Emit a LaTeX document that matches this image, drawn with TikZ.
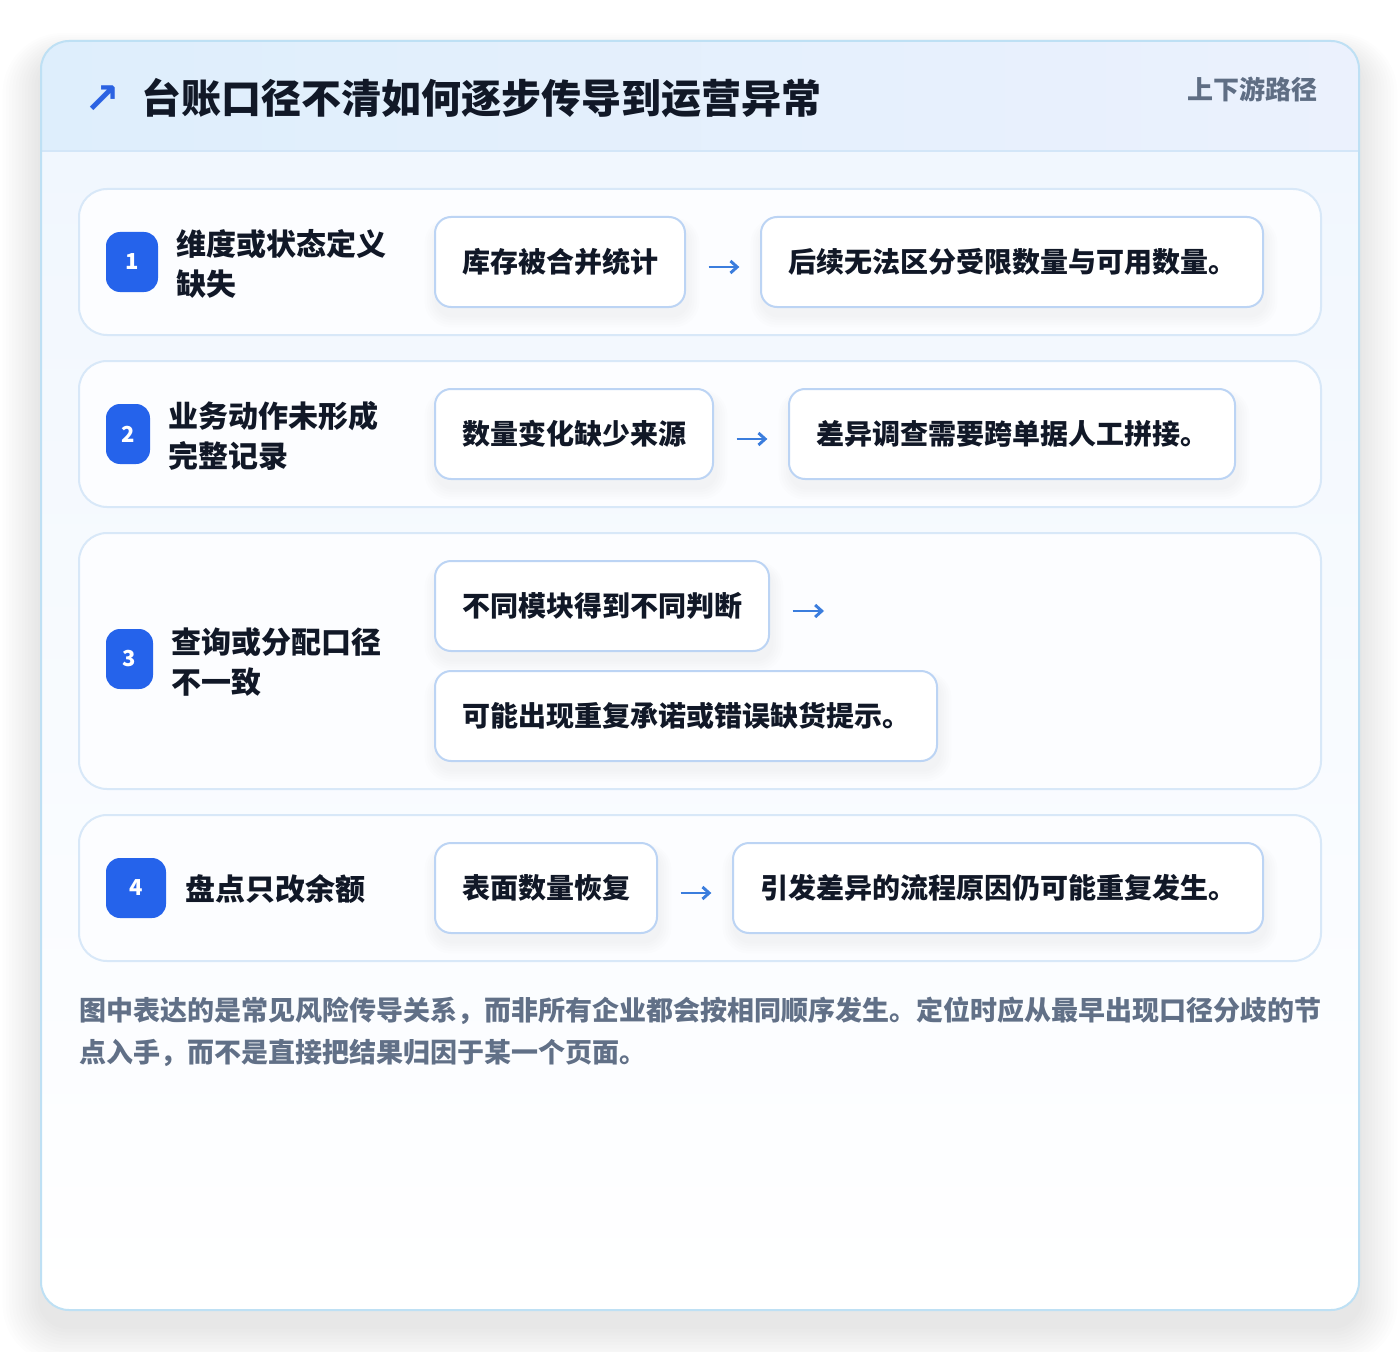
\documentclass[tikz,border=0pt]{standalone}
\usepackage{fontspec}
\setmainfont{Noto Sans CJK SC}
\newfontfamily\symfont{DejaVu Sans}
\usetikzlibrary{arrows.meta}
\definecolor{titlec}{HTML}{111827}
\definecolor{subc}{HTML}{5F6E84}
\definecolor{badgec}{HTML}{2563EB}
\definecolor{arrowc}{HTML}{3B7DDD}
\definecolor{iconc}{HTML}{2B62E2}
\definecolor{boxborder}{HTML}{BCD4F4}
\definecolor{rowborder}{HTML}{D8E8F8}
\definecolor{cardborder}{HTML}{BEE0F4}
\definecolor{hdrL}{HTML}{DEEEFC}
\definecolor{hdrR}{HTML}{EBF1FD}
\definecolor{hdrline}{HTML}{D3E6F8}
\definecolor{cardtop}{HTML}{F1F7FE}
\definecolor{rowfill}{HTML}{FCFDFF}
\definecolor{footc}{HTML}{617087}
\tikzset{
  rowbox/.style={draw=rowborder, line width=1.5pt, fill=rowfill, rounded corners=21pt, inner sep=0pt},
  badge/.style={fill=badgec, rounded corners=10.5pt, inner sep=0pt, minimum height=45pt, text=white, font=\bfseries\fontsize{16.5pt}{18pt}\selectfont},
  lbl/.style={anchor=west, inner sep=0pt, align=left, text=titlec, font=\bfseries\fontsize{22.5pt}{30pt}\selectfont},
  stepbox/.style={draw=boxborder, line width=1.5pt, fill=white, rounded corners=12pt, inner sep=0pt, minimum height=67.5pt, text=titlec, font=\bfseries\fontsize{21pt}{26pt}\selectfont},
  flow/.style={draw=arrowc, line width=2.2pt, -{Straight Barb[length=5pt,width=9pt,line width=2.2pt]}},
}
\begin{document}
\begin{tikzpicture}[x=0.75pt,y=-0.75pt]
\useasboundingbox (0,0) rectangle (1400,1352);
\fill[white] (0,0) rectangle (1400,1352);
% card shadow
\foreach \i in {1,...,12}{
  \fill[black, opacity=0.008, rounded corners=21pt+\i*2pt] (41-\i*3.2,41-\i*2+16) rectangle (1359+\i*3.2,1310+\i*3.2+16);
}
% card
\begin{scope}
  \clip[rounded corners=21pt] (41,41) rectangle (1359,1310);
  \shade[top color=cardtop, bottom color=white] (41,151) rectangle (1359,1310);
  \shade[left color=hdrL, right color=hdrR] (41,41) rectangle (1359,151);
  \draw[hdrline, line width=1.2pt] (41,151) -- (1359,151);
\end{scope}
\draw[cardborder, line width=1.5pt, rounded corners=21pt] (41,41) rectangle (1359,1310);
% header
\node[text=iconc, inner sep=0pt, font=\symfont\bfseries\fontsize{32pt}{32pt}\selectfont] (icon) at (102,100) {↗};
\node[anchor=west, inner sep=0pt, text=titlec, font=\bfseries\fontsize{30pt}{34pt}\selectfont] (title) at (141,98) {台账口径不清如何逐步传导到运营异常};
\node[anchor=east, inner sep=0pt, text=subc, font=\bfseries\fontsize{19.5pt}{22pt}\selectfont] (sub) at (1318,89) {上下游路径};
% rows
\node[rowbox, minimum width=931.5pt, minimum height=109.5pt] (row1) at (700,262) {};
\node[rowbox, minimum width=931.5pt, minimum height=109.5pt] (row2) at (700,434) {};
\node[rowbox, minimum width=931.5pt, minimum height=192pt] (row3) at (700,661) {};
\node[rowbox, minimum width=931.5pt, minimum height=109.5pt] (row4) at (700,888) {};
% badges
\node[badge, minimum width=39pt] (b1) at (132,262) {1};
\node[badge, minimum width=33pt] (b2) at (128,434) {2};
\node[badge, minimum width=35.25pt] (b3) at (129.5,659) {3};
\node[badge, minimum width=45pt] (b4) at (136,888) {4};
% labels
\node[lbl] (l1) at (176,264) {维度或状态定义\\缺失};
\node[lbl] (l2) at (168,436) {业务动作未形成\\完整记录};
\node[lbl] (l3) at (171,662) {查询或分配口径\\不一致};
\node[lbl] (l4) at (185,889) {盘点只改余额};
% box shadows
\foreach \cx/\cy/\w in {560/262/250, 1012/262/502, 574/434/278, 1012/434/446, 602/606/334, 686/716/502, 546/888/222, 998/888/530}{
  \foreach \i in {1,...,5}{
    \fill[black, opacity=0.009, rounded corners=12pt+\i*1.5pt] (\cx-\w/2-\i*2.5+2,\cy-45-\i*1.5+8) rectangle (\cx+\w/2+\i*2.5+2,\cy+45+\i*2.5+8);
  }
}
% step boxes
\node[stepbox, minimum width=187.5pt] (r1a) at (560,262) {库存被合并统计};
\node[stepbox, minimum width=376.5pt] (r1b) at (1012,262) {后续无法区分受限数量与可用数量。};
\node[stepbox, minimum width=208.5pt] (r2a) at (574,434) {数量变化缺少来源};
\node[stepbox, minimum width=334.5pt] (r2b) at (1012,434) {差异调查需要跨单据人工拼接。};
\node[stepbox, minimum width=250.5pt] (r3a) at (602,606) {不同模块得到不同判断};
\node[stepbox, minimum width=376.5pt] (r3b) at (686,716) {可能出现重复承诺或错误缺货提示。};
\node[stepbox, minimum width=166.5pt] (r4a) at (546,888) {表面数量恢复};
\node[stepbox, minimum width=397.5pt] (r4b) at (998,888) {引发差异的流程原因仍可能重复发生。};
% connectors
\draw[flow] ([xshift=17pt,yshift=-3.75pt]r1a.east) -- ([xshift=-15.5pt,yshift=-3.75pt]r1b.west);
\draw[flow] ([xshift=17pt,yshift=-3.75pt]r2a.east) -- ([xshift=-15.5pt,yshift=-3.75pt]r2b.west);
\coordinate (r3end) at (824,611);
\draw[flow] ([xshift=17pt,yshift=-3.75pt]r3a.east) -- (r3end);
\draw[flow] ([xshift=17pt,yshift=-3.75pt]r4a.east) -- ([xshift=-15.5pt,yshift=-3.75pt]r4b.west);
% footer
\node[anchor=north west, inner sep=0pt, align=left, text=footc, font=\bfseries\fontsize{20.25pt}{31.5pt}\selectfont] (foot) at (79,997) {图中表达的是常见风险传导关系，而非所有企业都会按相同顺序发生。定位时应从最早出现口径分歧的节\\点入手，而不是直接把结果归因于某一个页面。};
\end{tikzpicture}
\end{document}
